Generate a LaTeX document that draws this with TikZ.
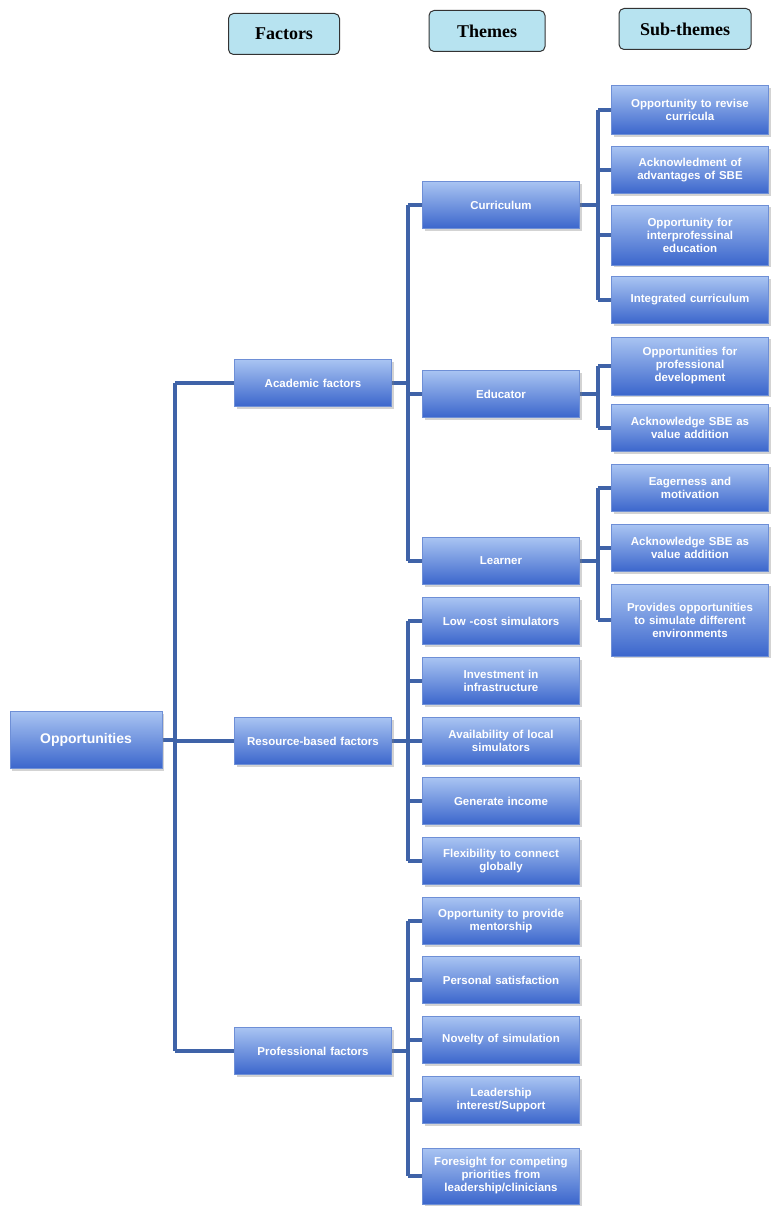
\documentclass[tikz,border=0pt]{standalone}
\usepackage{fontspec}
\setmainfont{Liberation Sans}
\newfontfamily\hdrfont{Liberation Serif}
\usetikzlibrary{shadows}
\definecolor{boxtop}{HTML}{A9C4F2}
\definecolor{boxbot}{HTML}{3B66CC}
\definecolor{boxedge}{HTML}{6E8FD6}
\definecolor{linec}{HTML}{3F63A8}
\definecolor{hdrfill}{HTML}{B7E3F0}
\begin{document}
\begin{tikzpicture}[x=1pt,y=-1pt,
  bx/.style={top color=boxtop,bottom color=boxbot,draw=boxedge,line width=0.6pt,
    minimum width=157pt,minimum height=#1,text width=150pt,align=center,inner sep=1pt,
    text=white,font=\fontsize{11.5}{13}\selectfont\bfseries,
    drop shadow={shadow xshift=2pt,shadow yshift=-2pt,opacity=0.35}},
  bx/.default=47pt,
  hdr/.style={fill=hdrfill,draw=black!80,line width=1pt,rounded corners=5pt,
    minimum height=41pt,font=\hdrfont\fontsize{18}{20}\selectfont\bfseries},
  ln/.style={draw=linec,line width=3.5pt}]
\useasboundingbox (0,0) rectangle (775,1215);
% headers
\node[hdr,minimum width=111pt] (hf) at (284,34) {Factors};
\node[hdr,minimum width=116pt] (ht) at (487,31) {Themes};
\node[hdr,minimum width=132pt] (hs) at (685,29) {Sub-themes};
% coordinates for trunks
\coordinate (t0) at (175,0);
\coordinate (t1) at (408,0);
\coordinate (t2) at (598,0);
% connectors first (behind boxes)
\begin{scope}[ln]
\draw (162,740) -- (175,740);
\draw (175,383) -- (175,1051);
\foreach \y in {383,741,1051} \draw (175,\y) -- (235,\y);
\draw (392,383) -- (408,383);
\draw (408,205) -- (408,561);
\foreach \y in {205,394,561} \draw (408,\y) -- (423,\y);
\draw (392,741) -- (408,741);
\draw (408,621) -- (408,861);
\foreach \y in {621,681,741,801,861} \draw (408,\y) -- (423,\y);
\draw (392,1051) -- (408,1051);
\draw (408,921) -- (408,1176);
\foreach \y in {921,980,1040,1100,1176} \draw (408,\y) -- (423,\y);
\draw (580,205) -- (598,205);
\draw (598,110) -- (598,300);
\foreach \y in {110,170,235,300} \draw (598,\y) -- (612,\y);
\draw (580,394) -- (598,394);
\draw (598,366) -- (598,428);
\foreach \y in {366,428} \draw (598,\y) -- (612,\y);
\draw (580,561) -- (598,561);
\draw (598,488) -- (598,620);
\foreach \y in {488,548,620} \draw (598,\y) -- (612,\y);
\end{scope}
% root
\node[bx=57pt,minimum width=152pt,text width=145pt,font=\fontsize{14}{16}\selectfont\bfseries] (opp) at (86,740) {Opportunities};
% factors
\node[bx] (ac) at (313,383) {Academic factors};
\node[bx] (rb) at (313,741) {Resource-based factors};
\node[bx] (pf) at (313,1051) {Professional factors};
% themes
\node[bx] (cu) at (501,205) {Curriculum};
\node[bx] (ed) at (501,394) {Educator};
\node[bx] (le) at (501,561) {Learner};
\node[bx] (r1) at (501,621) {Low -cost simulators};
\node[bx] (r2) at (501,681) {Investment in\\infrastructure};
\node[bx] (r3) at (501,741) {Availability of local\\simulators};
\node[bx] (r4) at (501,801) {Generate income};
\node[bx] (r5) at (501,861) {Flexibility to connect\\globally};
\node[bx] (p1) at (501,921) {Opportunity to provide\\mentorship};
\node[bx] (p2) at (501,980) {Personal satisfaction};
\node[bx] (p3) at (501,1040) {Novelty of simulation};
\node[bx] (p4) at (501,1100) {Leadership\\interest/Support};
\node[bx=56pt] (p5) at (501,1176) {Foresight for competing\\priorities from\\leadership/clinicians};
% sub-themes
\node[bx=49pt] (s1) at (690,110) {Opportunity to revise\\curricula};
\node[bx] (s2) at (690,170) {Acknowledment of\\advantages of SBE};
\node[bx=60pt] (s3) at (690,235) {Opportunity for\\interprofessinal\\education};
\node[bx] (s4) at (690,300) {Integrated curriculum};
\node[bx=58pt] (s5) at (690,366) {Opportunities for\\professional\\development};
\node[bx] (s6) at (690,428) {Acknowledge SBE as\\value addition};
\node[bx] (s7) at (690,488) {Eagerness and\\motivation};
\node[bx] (s8) at (690,548) {Acknowledge SBE as\\value addition};
\node[bx=72pt] (s9) at (690,620) {Provides opportunities\\to simulate different\\environments};
\end{tikzpicture}
\end{document}
